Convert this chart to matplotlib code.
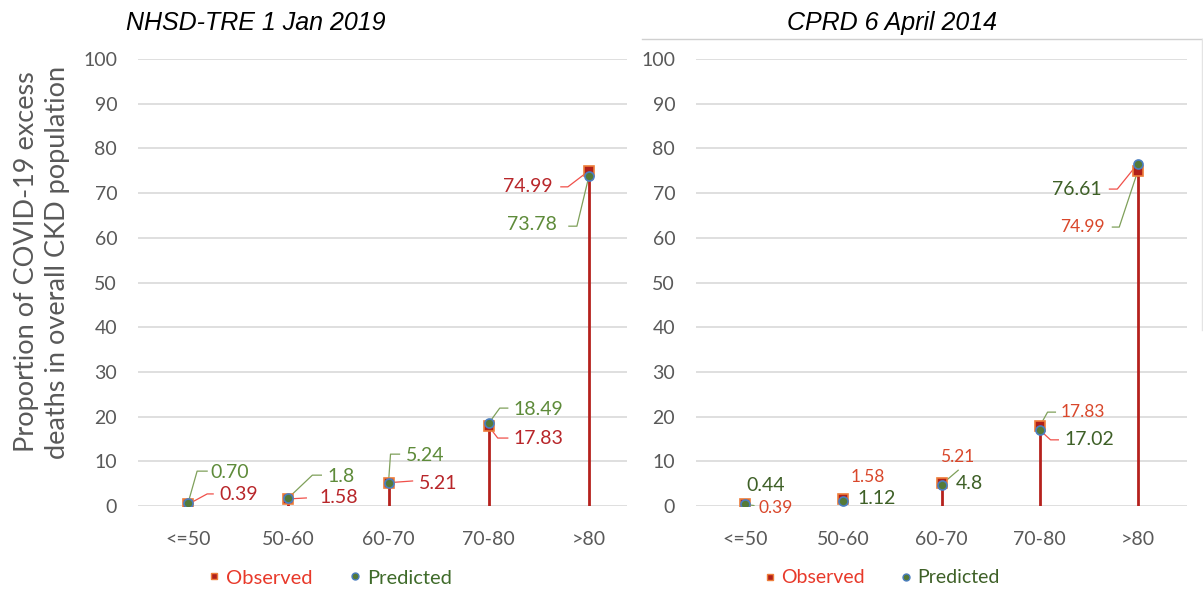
import matplotlib
matplotlib.use('Agg')
import matplotlib.pyplot as plt
from matplotlib.lines import Line2D
import numpy as np

plt.rcParams['font.family'] = ['Lato', 'DejaVu Sans']

# data
age_groups = ['<=50', '50-60', '60-70', '70-80', '>80']
nhsd_observed = [0.39, 1.58, 5.21, 17.83, 74.99]
nhsd_predicted = [0.70, 1.8, 5.24, 18.49, 73.78]
cprd_observed = [0.39, 1.58, 5.21, 17.83, 74.99]
cprd_predicted = [0.44, 1.12, 4.8, 17.02, 76.61]
nhsd_obs_text = ['0.39', '1.58', '5.21', '17.83', '74.99']
nhsd_pred_text = ['0.70', '1.8', '5.24', '18.49', '73.78']
cprd_obs_text = ['0.39', '1.58', '5.21', '17.83', '74.99']
cprd_pred_text = ['0.44', '1.12', '4.8', '17.02', '76.61']

# label placement: (x, y, ha, leader points or None, leader colour)
nhsd_obs_pos = [
    (0.31, 2.5, 'left', [(0.19, 2.7), (0.25, 2.7)], '#F0504A'),
    (1.31, 1.8, 'left', [(1.18, 1.8)], '#F0504A'),
    (2.30, 5.1, 'left', [(2.24, 5.6)], '#F0504A'),
    (3.25, 15.2, 'left', [(3.09, 15.2), (3.19, 15.2)], '#F0504A'),
    (3.64, 71.4, 'right', [(3.79, 71.4), (3.72, 71.4)], '#F0504A'),
]
nhsd_pred_pos = [
    (0.22, 7.6, 'left', [(0.09, 7.8), (0.19, 7.8)], '#7FA05A'),
    (1.39, 6.7, 'left', [(1.24, 6.9), (1.33, 6.9)], '#7FA05A'),
    (2.17, 11.4, 'left', [(2.02, 11.6), (2.11, 11.6)], '#7FA05A'),
    (3.25, 21.7, 'left', [(3.11, 21.9), (3.19, 21.9)], '#7FA05A'),
    (3.68, 62.9, 'right', [(3.88, 62.6), (3.80, 62.6)], '#7FA05A'),
]
cprd_obs_pos = [
    (0.14, -0.4, 'left', [(0.09, 0.1)], '#7FA05A'),
    (1.25, 6.5, 'center', None, None),
    (2.16, 11.0, 'center', None, None),
    (3.21, 21.0, 'left', [(3.08, 21.0), (3.16, 21.0)], '#7FA05A'),
    (3.66, 62.4, 'right', [(3.81, 62.4), (3.74, 62.4)], '#7FA05A'),
]
cprd_pred_pos = [
    (0.21, 4.5, 'center', None, None),
    (1.14, 1.6, 'left', None, None),
    (2.15, 5.1, 'left', [(2.17, 8.0)], '#7FA05A'),
    (3.25, 14.8, 'left', [(3.11, 14.8), (3.19, 14.8)], '#F0504A'),
    (3.63, 70.9, 'right', [(3.79, 70.9), (3.71, 70.9)], '#F0504A'),
]

W, H = 1203, 591
fig = plt.figure(figsize=(W / 100, H / 100), dpi=100)

stem_col = '#B5211D'
sq_face, sq_edge = '#B0201A', '#EE7D3A'
ci_face, ci_edge = '#557A38', '#4A7EC0'
grey = '#595959'


def panel(rect, xmax, title, title_x, obs, pred, obs_txt, pred_txt, obs_pos, pred_pos,
          obs_col, pred_col, obs_fs, pred_fs, leg_x, leg_fs, leg_cols):
    ax = fig.add_axes(rect)
    x = np.arange(len(age_groups))
    ax.set_xlim(-0.5, xmax)
    ax.set_ylim(0, 100)
    ax.set_yticks(np.arange(0, 101, 10))
    ax.set_xticks(x)
    ax.set_xticklabels(age_groups)
    ax.tick_params(axis='both', length=0, colors=grey, labelsize=14)
    ax.tick_params(axis='y', pad=15)
    ax.tick_params(axis='x', pad=18)
    ax.grid(axis='y', color='#D9D9D9', linewidth=1.2)
    ax.set_axisbelow(True)
    for s in ax.spines.values():
        s.set_visible(False)
    ax.vlines(x, 0, obs, color=stem_col, linewidth=2, zorder=3)

    for i in range(len(x)):
        for val, txt, pos, col, fs in [(obs[i], obs_txt[i], obs_pos[i], obs_col, obs_fs),
                                       (pred[i], pred_txt[i], pred_pos[i], pred_col, pred_fs)]:
            tx, ty, ha, pts, lc = pos
            if pts is not None:
                px = [i] + [p[0] for p in pts]
                py = [val] + [p[1] for p in pts]
                ax.plot(px, py, color=lc, linewidth=0.9, zorder=4)
            ax.text(tx, ty, txt, color=col, fontsize=fs, ha=ha, va='center', zorder=6)

    ax.plot(x, obs, linestyle='none', marker='s', markersize=6.5, markerfacecolor=sq_face,
            markeredgecolor=sq_edge, markeredgewidth=1.2, zorder=5)
    ax.plot(x, pred, linestyle='none', marker='o', markersize=6.5, markerfacecolor=ci_face,
            markeredgecolor=ci_edge, markeredgewidth=1.2, zorder=5)

    handles = [
        Line2D([], [], linestyle='none', marker='s', markersize=5, markerfacecolor=sq_face,
               markeredgecolor=sq_edge, label='Observed'),
        Line2D([], [], linestyle='none', marker='o', markersize=5, markerfacecolor=ci_face,
               markeredgecolor=ci_edge, label='Predicted'),
    ]
    ax.legend(handles=handles, loc='center', bbox_to_anchor=(leg_x, -0.161), ncol=2,
              frameon=False, fontsize=leg_fs, labelcolor=leg_cols, handletextpad=0.1,
              columnspacing=1.6, handlelength=1.0)
    fig.text(title_x / W, 1 - 23 / H, title, family='Liberation Sans',
             style='italic', fontsize=18, ha='center', va='center', color='black')
    return ax


bottom = 1 - 506 / H
height = 447 / H
panel([138 / W, bottom, 489 / W, height], 4.38, 'NHSD-TRE 1 Jan 2019', 256,
      nhsd_observed, nhsd_predicted, nhsd_obs_text, nhsd_pred_text, nhsd_obs_pos, nhsd_pred_pos,
      '#B8262A', '#5E8B3A', 14, 14, 0.389, 14.5, ['#E8392A', '#3F6B2A'])
panel([696 / W, bottom, 491 / W, height], 4.5, 'CPRD 6 April 2014', 892,
      cprd_observed, cprd_predicted, cprd_obs_text, cprd_pred_text, cprd_obs_pos, cprd_pred_pos,
      '#D9472B', '#3E6027', 12.5, 14, 0.375, 14, ['#E8392A', '#3E6027'])

fig.text(42 / W, 1 - 262 / H, 'Proportion of COVID-19 excess\ndeaths in overall CKD population',
         rotation=90, ha='center', va='center', color=grey, fontsize=19.5, linespacing=1.3)

# frame of the second chart
fig.add_artist(Line2D([642 / W, 1202 / W], [1 - 39 / H, 1 - 39 / H], color='#D0D0D0', linewidth=1))
fig.add_artist(Line2D([1202 / W, 1202 / W], [1 - 39 / H, 1 - 330 / H], color='#E4E4E4', linewidth=1))

fig.savefig('out.png', dpi=100)
